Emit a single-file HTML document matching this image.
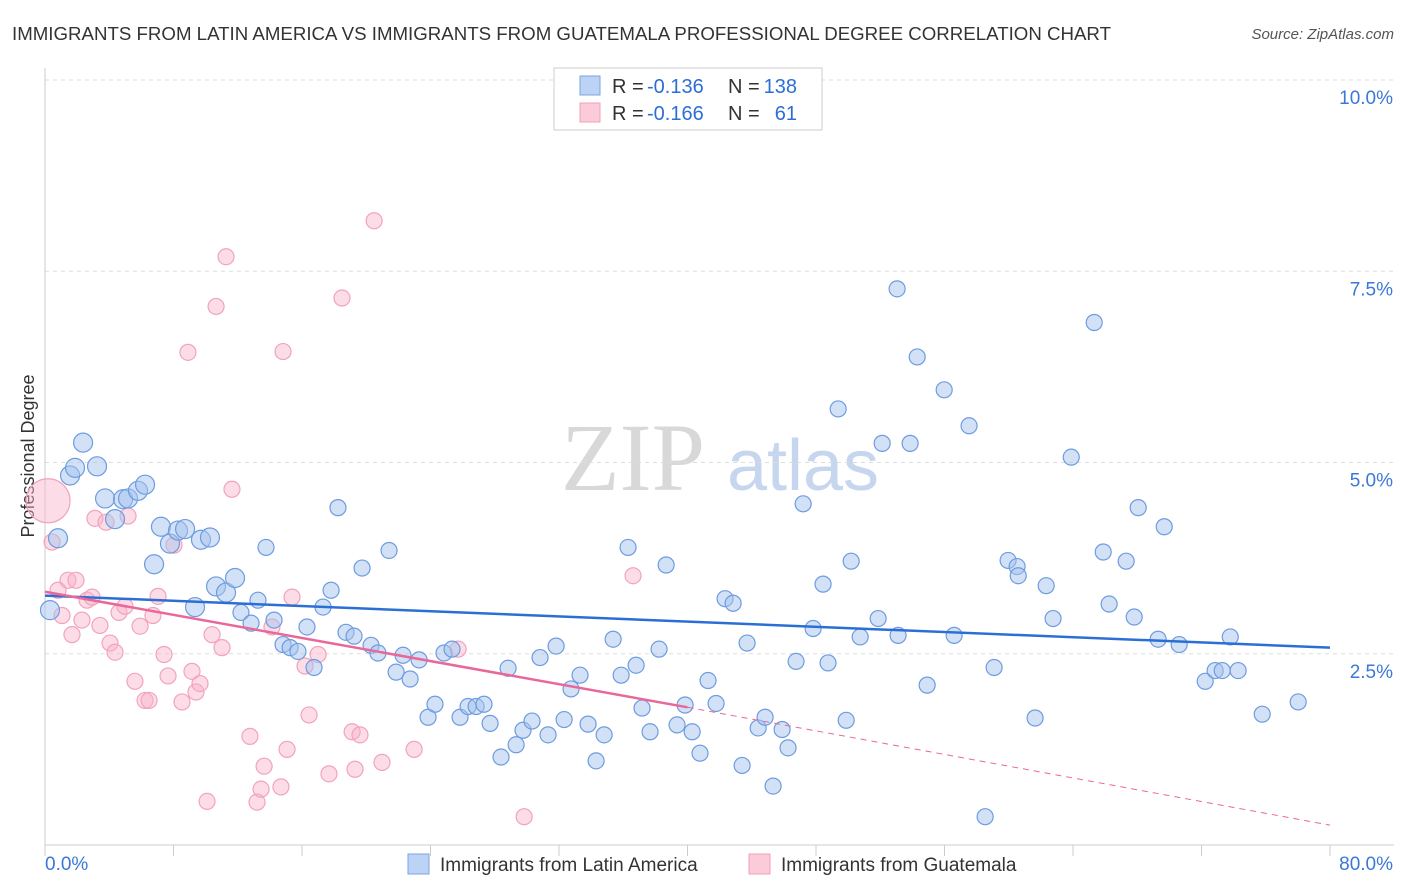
<!DOCTYPE html>
<html><head><meta charset="utf-8"><style>
body{margin:0;background:#fff;font-family:"Liberation Sans",sans-serif;}
svg{display:block}
</style></head><body>
<svg id="chart" width="1406" height="892">
<text x="12" y="40" font-size="18" fill="#333" textLength="1099" lengthAdjust="spacingAndGlyphs">IMMIGRANTS FROM LATIN AMERICA VS IMMIGRANTS FROM GUATEMALA PROFESSIONAL DEGREE CORRELATION CHART</text>
<text x="1394" y="39" font-size="15" fill="#555" font-style="italic" text-anchor="end">Source: ZipAtlas.com</text>
<text x="633" y="490" font-size="96" fill="#d8d8d8" font-family="Liberation Serif,serif" text-anchor="middle">ZIP</text>
<text x="803" y="490" font-size="72" fill="#c5d6ee" text-anchor="middle">atlas</text>
<text transform="translate(34,456) rotate(-90)" font-size="18" fill="#333" text-anchor="middle">Professional Degree</text>
<g id="grid"></g><g id="axes"></g><g id="pts"></g><g id="lines"></g>
<g>
<rect x="554" y="68" width="268" height="62" fill="#fff" stroke="#ccc"/>
<rect x="580" y="76" width="20" height="19" fill="#bcd3f5" stroke="#7aa6e0"/>
<rect x="580" y="103" width="20" height="19" fill="#fbcbd9" stroke="#f0a0b8"/>
<text x="612" y="93" font-size="20" fill="#333">R =</text>
<text x="647" y="93" font-size="20" fill="#2b6fd6">-0.136</text>
<text x="728" y="93" font-size="20" fill="#333">N =</text>
<text x="797" y="93" font-size="20" fill="#2b6fd6" text-anchor="end">138</text>
<text x="612" y="120" font-size="20" fill="#333">R =</text>
<text x="647" y="120" font-size="20" fill="#2b6fd6">-0.166</text>
<text x="728" y="120" font-size="20" fill="#333">N =</text>
<text x="797" y="120" font-size="20" fill="#2b6fd6" text-anchor="end">61</text>
</g>
<g>
<rect x="408" y="854" width="21" height="20" fill="#bcd3f5" stroke="#7aa6e0"/>
<text x="440" y="871" font-size="19" fill="#333">Immigrants from Latin America</text>
<rect x="749" y="854" width="21" height="20" fill="#fbcbd9" stroke="#f0a0b8"/>
<text x="781" y="871" font-size="19" fill="#333">Immigrants from Guatemala</text>
</g>
</svg>
<script>
const yTicks=[2.5,5.0,7.5,10.0];
const yTickLabels=["2.5%","5.0%","7.5%","10.0%"];
const xTickCount=10;
const blueX=[0.31,0.81,1.56,1.87,2.37,3.24,3.74,4.36,4.86,5.17,5.79,6.23,6.79,7.22,7.78,8.28,8.72,9.34,9.71,10.27,10.65,11.27,11.83,12.20,12.83,13.26,13.76,14.26,14.82,15.26,15.75,16.31,16.75,17.31,17.81,18.24,18.74,19.24,19.74,20.30,20.73,21.42,21.86,22.29,22.73,23.29,23.85,24.28,24.84,25.34,25.84,26.34,26.84,27.33,27.71,28.39,28.83,29.33,29.76,30.32,30.82,31.32,31.82,32.32,32.75,33.31,33.81,34.31,34.81,35.37,35.87,36.30,36.80,37.17,37.67,38.23,38.67,39.35,39.85,40.29,40.78,41.28,41.78,42.34,42.84,43.40,43.71,44.40,44.83,45.33,45.89,46.26,46.76,47.20,47.82,48.44,48.75,49.38,49.88,50.19,50.75,51.87,52.12,53.05,53.11,53.86,54.30,54.92,55.98,56.60,57.53,58.53,59.09,59.96,60.52,60.59,61.64,62.33,62.76,63.89,65.32,65.88,66.25,67.31,67.81,68.06,69.30,69.68,70.61,72.23,72.85,73.29,73.79,74.28,75.78,78.02];
const blueY=[3.07,4.01,4.83,4.93,5.26,4.95,4.53,4.26,4.52,4.53,4.63,4.71,3.67,4.16,3.94,4.11,4.13,3.11,3.99,4.02,3.38,3.30,3.49,3.04,2.90,3.20,3.89,2.94,2.62,2.58,2.53,2.85,2.32,3.11,3.33,4.41,2.78,2.73,3.62,2.61,2.51,3.85,2.26,2.48,2.17,2.42,1.67,1.84,2.51,2.56,1.67,1.81,1.81,1.84,1.59,1.15,2.31,1.31,1.50,1.62,2.45,1.44,2.60,1.64,2.04,2.22,1.58,1.10,1.44,2.69,2.22,3.89,2.35,1.79,1.48,2.56,3.66,1.57,1.83,1.48,1.20,2.15,1.85,3.22,3.16,1.04,2.64,1.53,1.67,0.77,1.51,1.27,2.40,4.46,2.83,3.41,2.38,5.70,1.63,3.71,2.72,2.96,5.25,7.27,2.74,5.25,6.38,2.09,5.95,2.74,5.48,0.37,2.32,3.72,3.64,3.52,1.66,3.39,2.96,5.07,6.83,3.83,3.15,3.71,2.98,4.41,2.69,4.16,2.62,2.14,2.28,2.28,2.72,2.28,1.71,1.87];
const pinkX=[0.19,0.44,0.81,1.06,1.43,1.68,1.93,2.30,2.62,2.93,3.11,3.42,3.80,4.05,4.36,4.61,4.98,5.17,5.60,5.92,6.23,6.48,6.72,7.04,7.41,7.66,8.03,8.53,8.90,9.15,9.40,9.65,10.09,10.40,10.65,11.02,11.27,11.64,12.76,13.20,13.45,13.64,14.13,14.69,14.82,15.07,15.38,16.19,16.44,17.00,17.68,18.49,19.12,19.30,19.61,20.49,20.98,22.98,25.72,29.83,36.61];
const pinkY=[4.50,3.96,3.33,3.00,3.46,2.75,3.46,2.94,3.20,3.24,4.27,2.87,4.22,2.64,2.52,3.04,3.12,4.30,2.14,2.86,1.89,1.89,3.00,3.25,2.49,2.21,3.92,1.87,6.44,2.27,2.00,2.11,0.57,2.75,7.04,2.58,7.69,4.65,1.42,0.56,0.73,1.03,2.85,0.76,6.45,1.25,3.24,2.34,1.70,2.49,0.93,7.15,1.48,0.99,1.44,8.16,1.08,1.25,2.56,0.37,3.52];
const blueLine=[[0,3.26],[80,2.58]];
const pinkLine=[[0,3.31],[40,1.80]];
const pinkDash=[[40,1.80],[80,0.26]];

const X0=45,X1=1330,Y0=845,Y10=80;
const sx=v=>X0+(X1-X0)*v/80;
const sy=v=>Y0-(Y0-Y10)*v/10;
const NS="http://www.w3.org/2000/svg";
function mk(tag,attrs,parent){const e=document.createElementNS(NS,tag);for(const k in attrs)e.setAttribute(k,attrs[k]);parent.appendChild(e);return e;}
const grid=document.getElementById('grid'),axes=document.getElementById('axes'),pts=document.getElementById('pts'),lines=document.getElementById('lines');
yTicks.forEach((t,i)=>{
  const g=mk('line',{x1:X0,x2:1394,y1:sy(t),y2:sy(t),stroke:'#ddd','stroke-dasharray':'4,4'},grid);
  
  
  const l=mk('text',{x:1393,y:sy(t)+24,'font-size':19,fill:'#3b78d8','text-anchor':'end'},axes);
  l.textContent=yTickLabels[i];
  
  
});
const ax=mk('line',{x1:X0,x2:X0,y1:68,y2:Y0,stroke:'#ccc'},axes);


const bx=mk('line',{x1:X0,x2:1394,y1:Y0,y2:Y0,stroke:'#ccc'},axes);


for(let i=0;i<=xTickCount;i++){
  const x=sx(i*8);
  const t=mk('line',{x1:x,x2:x,y1:Y0,y2:Y0+11,stroke:'#ccc'},axes);
  
  
}
const xl=mk('text',{x:45,y:870,'font-size':19,fill:'#3b78d8'},axes);xl.textContent='0.0%';


const xr=mk('text',{x:1393,y:870,'font-size':19,fill:'#3b78d8','text-anchor':'end'},axes);xr.textContent='80.0%';


pinkX.forEach((v,i)=>{
  const c=mk('circle',{cx:sx(v),cy:sy(pinkY[i]),r:i===0?22:8,fill:'rgba(248,180,202,0.45)',stroke:'#f2a3bb','stroke-width':1.2},pts);
  
  
});
blueX.forEach((v,i)=>{
  const c=mk('circle',{cx:sx(v),cy:sy(blueY[i]),r:v<12?9.5:8,fill:'rgba(165,195,238,0.5)',stroke:'#6d9ce0','stroke-width':1.2},pts);
  
  
});
const bl=mk('line',{x1:sx(blueLine[0][0]),y1:sy(blueLine[0][1]),x2:sx(blueLine[1][0]),y2:sy(blueLine[1][1]),stroke:'#2b6fd6','stroke-width':2.5},lines);


const pl=mk('line',{x1:sx(pinkLine[0][0]),y1:sy(pinkLine[0][1]),x2:sx(pinkLine[1][0]),y2:sy(pinkLine[1][1]),stroke:'#e8689a','stroke-width':2.5},lines);


const pd=mk('line',{x1:sx(pinkDash[0][0]),y1:sy(pinkDash[0][1]),x2:sx(pinkDash[1][0]),y2:sy(pinkDash[1][1]),stroke:'#e8689a','stroke-width':1,'stroke-dasharray':'6,5'},lines);


</script>
</body></html>
